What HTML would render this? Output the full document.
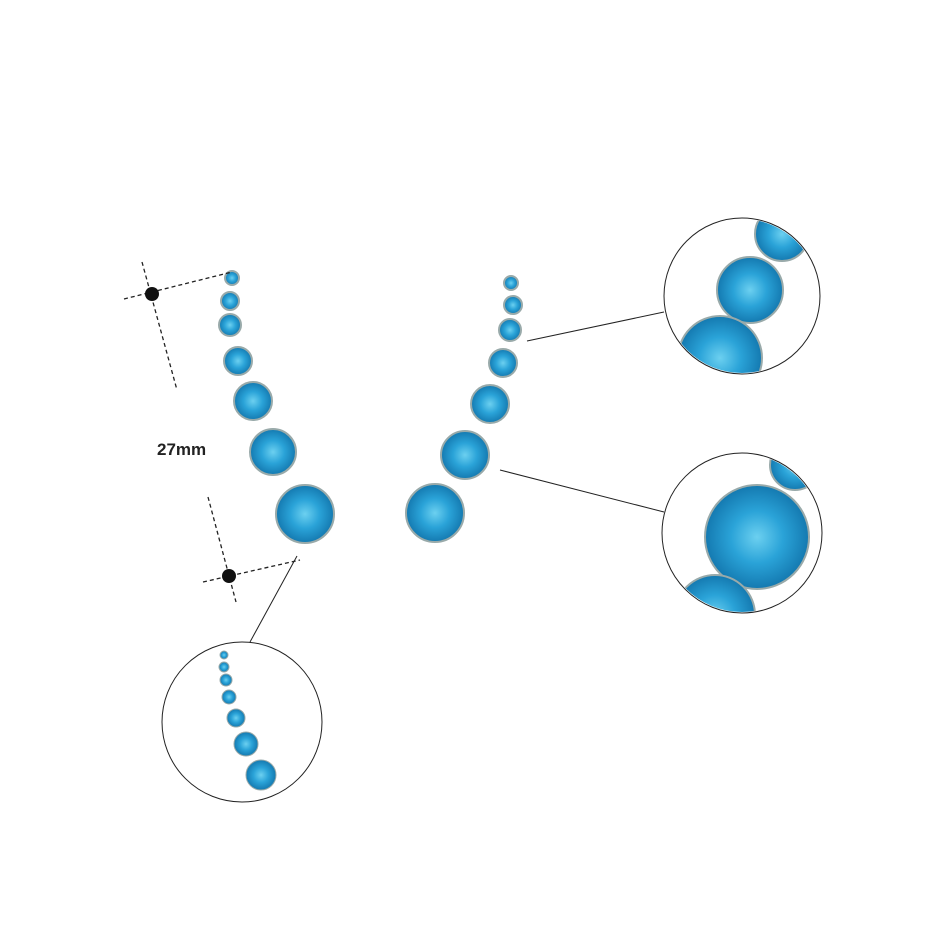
<!DOCTYPE html>
<html><head><style>body{margin:0;background:#fff}svg{display:block}</style></head><body>
<svg width="950" height="950" viewBox="0 0 950 950" xmlns="http://www.w3.org/2000/svg">
<defs>
<radialGradient id="g" cx="50%" cy="50%" r="50%">
<stop offset="0" stop-color="#6cd0f0"/><stop offset="0.5" stop-color="#2aa3d8"/><stop offset="1" stop-color="#1479b0"/></radialGradient>
<clipPath id="c1"><circle cx="742" cy="296" r="77"/></clipPath>
<clipPath id="c2"><circle cx="742" cy="533" r="79"/></clipPath>
<clipPath id="c3"><circle cx="242" cy="722" r="79"/></clipPath>
</defs>
<g fill="url(#g)" stroke="#9aa" stroke-width="2">
<circle cx="232" cy="278" r="7"/><circle cx="230" cy="301" r="9"/><circle cx="230" cy="325" r="11"/><circle cx="238" cy="361" r="14"/><circle cx="253" cy="401" r="19"/><circle cx="273" cy="452" r="23"/><circle cx="305" cy="514" r="29"/>
<circle cx="511" cy="283" r="7"/><circle cx="513" cy="305" r="9"/><circle cx="510" cy="330" r="11"/><circle cx="503" cy="363" r="14"/><circle cx="490" cy="404" r="19"/><circle cx="465" cy="455" r="24"/><circle cx="435" cy="513" r="29"/>
</g>
<g clip-path="url(#c1)" fill="url(#g)" stroke="#9aa" stroke-width="2">
<circle cx="782" cy="234" r="27"/><circle cx="750" cy="290" r="33"/><circle cx="720" cy="358" r="42"/></g>
<g clip-path="url(#c2)" fill="url(#g)" stroke="#9aa" stroke-width="2">
<circle cx="795" cy="465" r="25"/><circle cx="757" cy="537" r="52"/><circle cx="715" cy="615" r="40"/></g>
<g clip-path="url(#c3)" fill="url(#g)" stroke="#9aa" stroke-width="1">
<circle cx="224" cy="655" r="4"/><circle cx="224" cy="667" r="5"/><circle cx="226" cy="680" r="6"/><circle cx="229" cy="697" r="7"/><circle cx="236" cy="718" r="9"/><circle cx="246" cy="744" r="12"/><circle cx="261" cy="775" r="15"/></g>
<g fill="none" stroke="#222" stroke-width="1">
<circle cx="742" cy="296" r="78"/><circle cx="742" cy="533" r="80"/><circle cx="242" cy="722" r="80"/>
<line x1="527" y1="341" x2="664" y2="312"/><line x1="500" y1="470" x2="664" y2="512"/><line x1="250" y1="642" x2="297" y2="556"/>
</g>
<g fill="none" stroke="#222" stroke-width="1.3" stroke-dasharray="4,3">
<line x1="124" y1="299" x2="232" y2="272"/><line x1="142" y1="262" x2="177" y2="390"/>
<line x1="208" y1="497" x2="236" y2="602"/><line x1="203" y1="582" x2="300" y2="560"/>
</g>
<circle cx="152" cy="294" r="7" fill="#111"/><circle cx="229" cy="576" r="7" fill="#111"/>
<text x="157" y="455" font-family="Liberation Sans, sans-serif" font-weight="bold" font-size="17" fill="#222">27mm</text>
</svg>
</body></html>
